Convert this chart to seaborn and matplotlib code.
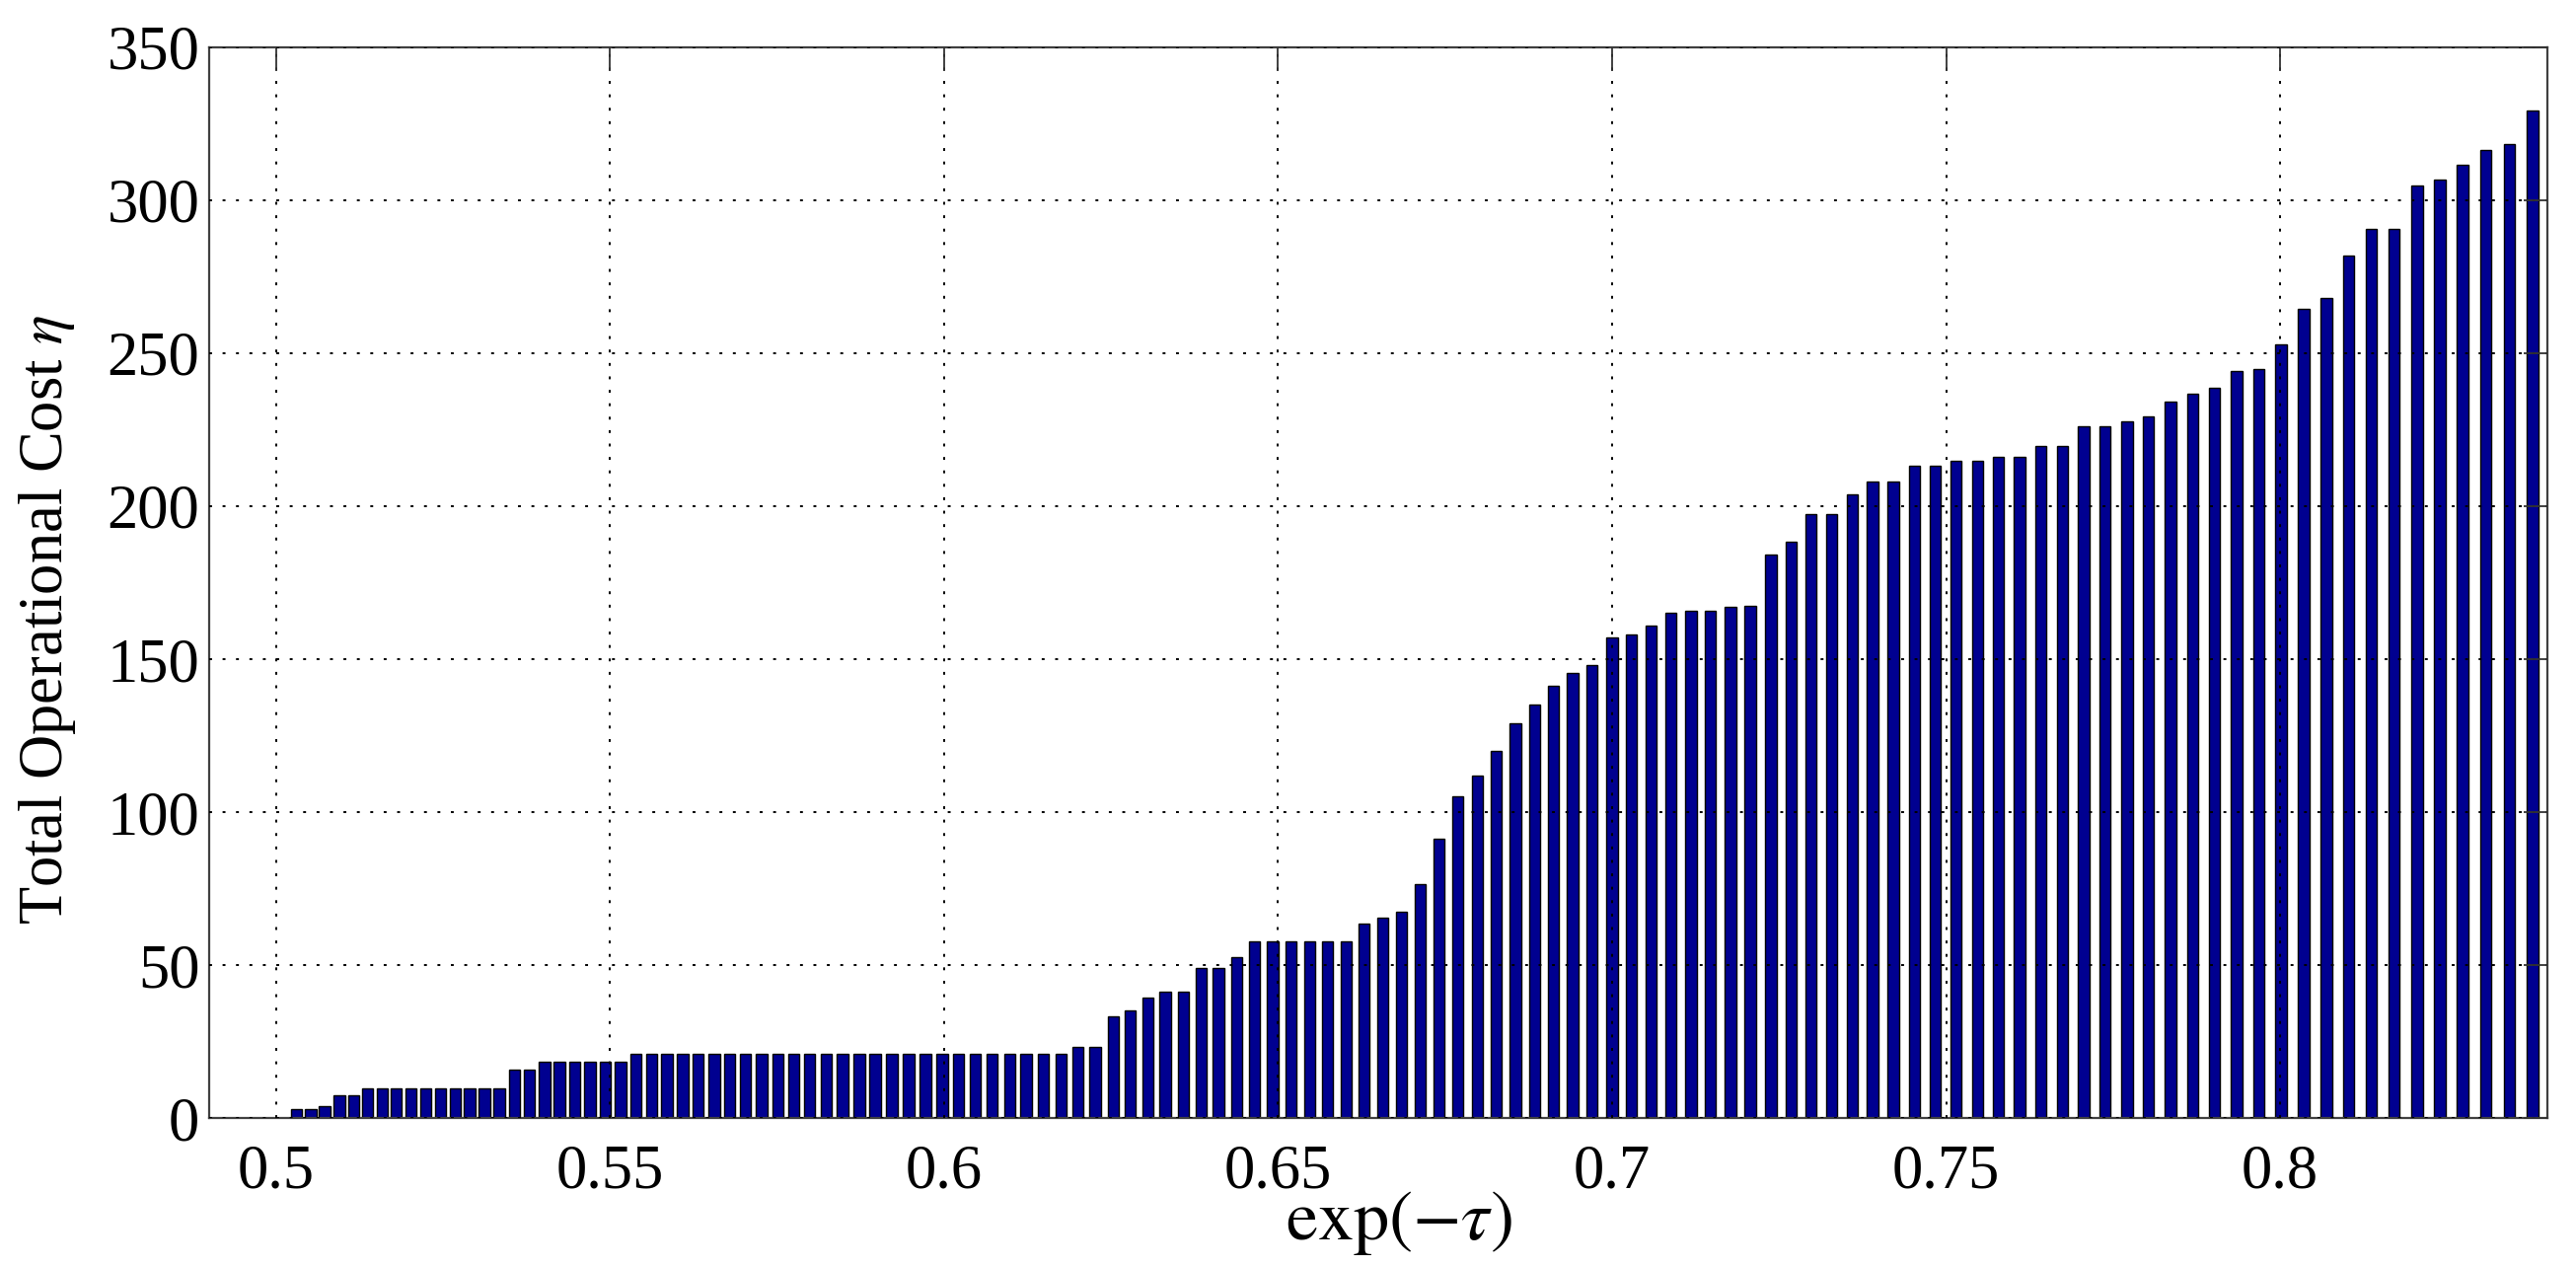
import pandas as pd
import matplotlib
matplotlib.use('Agg')
import matplotlib.pyplot as plt
import seaborn as sns

# bar positions exp(-tau)
exp_tau = [
    0.5031, 0.5052, 0.5073, 0.5095, 0.5116, 0.5137, 0.5159, 0.5180, 0.5202, 0.5224,
    0.5246, 0.5268, 0.5290, 0.5312, 0.5334, 0.5357, 0.5379, 0.5402, 0.5424, 0.5447,
    0.5470, 0.5493, 0.5516, 0.5539, 0.5562, 0.5585, 0.5609, 0.5632, 0.5656, 0.5679,
    0.5703, 0.5727, 0.5751, 0.5775, 0.5799, 0.5824, 0.5848, 0.5873, 0.5897, 0.5922,
    0.5947, 0.5972, 0.5997, 0.6022, 0.6047, 0.6072, 0.6098, 0.6123, 0.6149, 0.6175,
    0.6200, 0.6226, 0.6253, 0.6279, 0.6305, 0.6331, 0.6358, 0.6385, 0.6411, 0.6438,
    0.6465, 0.6492, 0.6519, 0.6547, 0.6574, 0.6602, 0.6629, 0.6657, 0.6685, 0.6713,
    0.6741, 0.6769, 0.6798, 0.6826, 0.6855, 0.6884, 0.6912, 0.6941, 0.6970, 0.7000,
    0.7029, 0.7058, 0.7088, 0.7118, 0.7147, 0.7177, 0.7207, 0.7238, 0.7268, 0.7298,
    0.7329, 0.7360, 0.7390, 0.7421, 0.7453, 0.7484, 0.7515, 0.7547, 0.7578, 0.7610,
    0.7642, 0.7674, 0.7706, 0.7738, 0.7771, 0.7803, 0.7836, 0.7869, 0.7902, 0.7935,
    0.7968, 0.8001, 0.8035, 0.8069, 0.8102, 0.8136, 0.8170, 0.8205, 0.8239, 0.8273,
    0.8308, 0.8343, 0.8378,
]

# total operational cost per bar
total_cost = [
    3, 3, 4, 7.5, 7.5,
    9.7, 9.7, 9.7, 9.7, 9.7, 9.7, 9.7, 9.7, 9.7, 9.7,
    15.8, 15.8,
    18.5, 18.5, 18.5, 18.5, 18.5, 18.5,
    21, 21, 21, 21, 21, 21, 21, 21, 21, 21, 21, 21, 21, 21,
    21, 21, 21, 21, 21, 21, 21, 21, 21, 21, 21, 21, 21,
    23.1, 23.1, 33.3, 35.2, 39.5, 41.3, 41.3, 49, 49, 52.5,
    57.9, 57.9, 57.9, 57.9, 57.9, 57.9,
    63.4, 65.6, 67.4, 76.4, 91.2, 105.2, 111.8, 120.0, 129.1, 135.2, 141.2, 145.5,
    148.1, 157.0, 158.2, 161.1, 165.1, 165.8, 165.8, 167.1, 167.5, 184.3,
    188.4, 197.3, 197.3, 203.9, 208.0, 208.0, 213.1, 213.1, 214.8, 214.8,
    216.2, 216.2, 219.7, 219.7, 226.0, 226.0, 227.9, 229.3, 234.1, 236.8,
    238.6, 244.1, 244.8, 253.0, 264.5, 268.0, 281.8, 290.7, 290.7, 304.7,
    306.9, 311.6, 316.5, 318.4, 329.5,
]

x_ticks = [0.5, 0.55, 0.6, 0.65, 0.7, 0.75, 0.8]
x_tick_labels = ['0.5', '0.55', '0.6', '0.65', '0.7', '0.75', '0.8']
y_ticks = [0, 50, 100, 150, 200, 250, 300, 350]

sns.set_style('white')
plt.rcParams['font.family'] = ['Liberation Serif', 'DejaVu Serif']
plt.rcParams['mathtext.fontset'] = 'stix'
plt.rcParams['text.color'] = 'black'
plt.rcParams['axes.labelcolor'] = 'black'

df = pd.DataFrame({'exp_tau': exp_tau, 'cost': total_cost})

fig, ax = plt.subplots(figsize=(26.11, 12.83), dpi=100)
fig.subplots_adjust(left=0.0812, right=0.9889, bottom=0.1169, top=0.9626)

# native_scale -> bars sit at their real x, width relative to the smallest spacing (like MATLAB bar)
sns.barplot(data=df, x='exp_tau', y='cost', native_scale=True, width=0.8,
            color='#000090', saturation=1, edgecolor='black', linewidth=1.0,
            errorbar=None, ax=ax)

ax.set_xlim(0.49, 0.84)
ax.set_ylim(0, 350)
ax.set_xticks(x_ticks)
ax.set_xticklabels(x_tick_labels)
ax.set_yticks(y_ticks)

ax.grid(True, color='black', linestyle=(0, (1.5, 5.5)), linewidth=1.4)
ax.set_axisbelow(False)

ax.tick_params(direction='in', length=17, width=1.3, top=True, right=True,
               labelsize=45, color='#333333', labelcolor='black')
ax.tick_params(axis='x', pad=19)
ax.tick_params(axis='y', pad=7)
for sp in ax.spines.values():
    sp.set_visible(True)
    sp.set_color('#404040')
    sp.set_linewidth(1.6)

ax.set_xlabel(r'$\exp(-\tau)$', fontsize=52)
ax.xaxis.set_label_coords(0.509, -0.066)
ax.set_ylabel(r'Total Operational Cost $\eta$', fontsize=45)
ax.yaxis.set_label_coords(-0.056, 0.465)

plt.savefig('out.png', dpi=100)
